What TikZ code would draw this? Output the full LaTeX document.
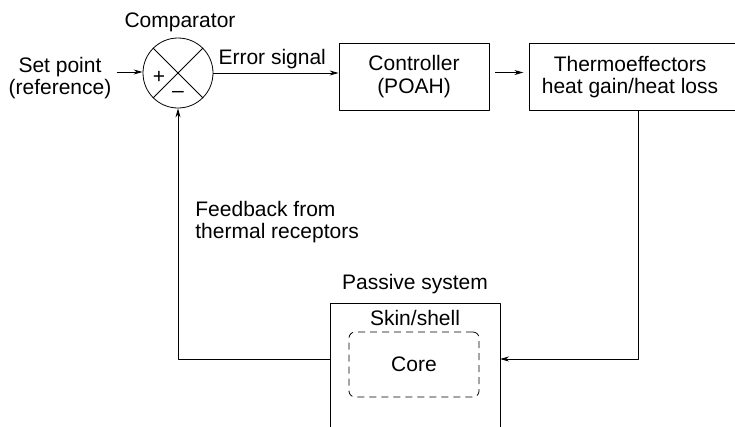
\documentclass[tikz,border=0pt]{standalone}
\usepackage{fontspec}
\setmainfont{Liberation Sans}
\usetikzlibrary{arrows.meta}
\begin{document}
\begin{tikzpicture}[x=1pt,y=-1pt, line width=0.8pt, line join=round,
  >={Stealth[length=9pt,width=5pt]},
  font=\fontsize{21}{22.5}\selectfont,
  txt/.style={align=center, inner sep=0pt},
  blk/.style={draw, minimum height=67pt, align=center, inner sep=0pt}]
\def \W{735};
\def \H{426};
\useasboundingbox (0,0) rectangle (\W,\H);
\clip (0,0) rectangle (\W,\H);
% comparator
\node[draw, circle, minimum size=70pt, inner sep=0pt] (cmp) at (178,73) {};
\draw (cmp.45) -- (cmp.225) (cmp.135) -- (cmp.315);
\node[txt] at (159,77) {+};
\node[txt] at (178,94) {--};
\node[txt] (cmpl) at (180,22) {Comparator};
\node[txt] (sp) at (60,78) {Set point\\(reference)};
\draw[->] (sp.east) ++(5,-6) coordinate (spa) -- (cmp.west |- spa);
% blocks
\node[blk, minimum width=150pt] (ctrl) at (414,76.5) {Controller\\(POAH)};
\node[blk, minimum width=220pt, anchor=west] (eff) at (529,76.5) {};
\node[txt] at (630,77) {Thermoeffectors\\heat gain/heat loss};
\draw[->] (cmp.east) -- (cmp.east -| ctrl.west) node[pos=0.47, above=4pt, txt] {Error signal};
\draw[->] (ctrl.east) ++(6,-4) -- ++(28,0);
% passive system
\coordinate (pl) at (330,303);
\coordinate (pr) at (500,303);
\draw (330,\H+5) -- (pl) -- (pr) -- (500,\H+5);
\node[txt] (pas) at (415,284) {Passive system};
\node[txt] (skin) at (415,318) {Skin/shell};
\node[draw, dashed, dash pattern=on 7pt off 5pt, rounded corners=6pt, minimum width=130pt, minimum height=65pt] (core) at (414,364.5) {Core};
% loops
\draw[->] (eff.south -| 638,0) |- (500,359);
\draw[->] (330,359) -| (cmp.south);
\node[txt, align=left, anchor=west] (fb) at (195,222) {Feedback from\\thermal receptors};
\end{tikzpicture}
\end{document}
